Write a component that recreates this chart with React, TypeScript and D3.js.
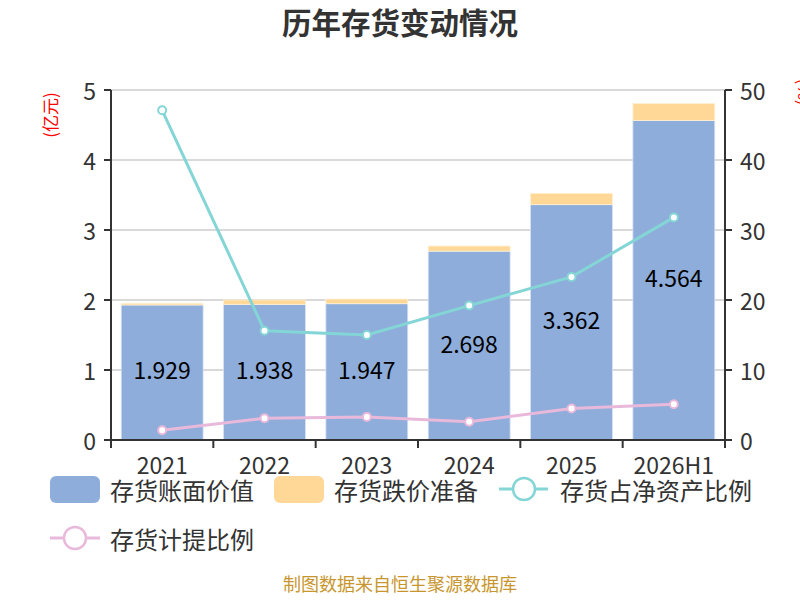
import React from "react";
import * as d3 from "d3";

const categories = ["2021", "2022", "2023", "2024", "2025", "2026H1"];
const bookValue = [1.929, 1.938, 1.947, 2.698, 3.362, 4.564];
const impairment = [0.024, 0.062, 0.067, 0.073, 0.162, 0.245];
const inventoryToNetAsset = [47.1, 15.6, 15.0, 19.2, 23.3, 31.8];
const provisionRatio = [1.4, 3.1, 3.3, 2.6, 4.5, 5.1];
const leftTicks = [0, 1, 2, 3, 4, 5];
const rightTicks = [0, 10, 20, 30, 40, 50];

const FONT = "'Noto Sans CJK SC', 'Microsoft YaHei', sans-serif";
const BLUE = "#8EADDA";
const ORANGE = "#FFD898";
const TEAL = "#84D5D6";
const PINK = "#E8B9DB";

export default function App() {
  const W = 800, H = 600;
  const left = 111, right = 725, top = 90, bottom = 440;
  const x = d3.scaleBand<string>().domain(categories).range([left, right]).paddingInner(0.2).paddingOuter(0.1);
  const xb = d3.scaleBand<string>().domain(categories).range([left, right]);
  const yL = d3.scaleLinear().domain([0, 5]).range([bottom, top]);
  const yR = d3.scaleLinear().domain([0, 50]).range([bottom, top]);
  const cx = (c: string) => (xb(c) as number) + xb.bandwidth() / 2;

  const line1 = d3.line<number>().x((_, i) => cx(categories[i])).y((d) => yR(d));
  const boundaries = categories.map((c) => xb(c) as number).concat([right]);

  return (
    <svg width={W} height={H} style={{ position: "absolute", left: 0, top: 0, fontFamily: FONT }}>
      <rect width={W} height={H} fill="#fff" />
      <text x={400} y={34} textAnchor="middle" fontSize={29.5} fontWeight="bold" fill="#333">历年存货变动情况</text>

      {leftTicks.map((t) => (
        <line key={"g" + t} x1={left} x2={right} y1={yL(t)} y2={yL(t)} stroke="#ccc" strokeWidth={1.5} />
      ))}

      {categories.map((c, i) => {
        const bx = x(c) as number;
        const bw = x.bandwidth();
        return (
          <g key={c}>
            <rect x={bx} y={yL(bookValue[i])} width={bw} height={yL(0) - yL(bookValue[i])} fill={BLUE} stroke="#d6e2f3" strokeWidth={0.8} />
            <rect x={bx} y={yL(bookValue[i] + impairment[i])} width={bw} height={yL(bookValue[i]) - yL(bookValue[i] + impairment[i])} fill={ORANGE} stroke="#fff1d6" strokeWidth={0.8} />
          </g>
        );
      })}

      {categories.map((c, i) => (
        <text key={"l" + c} x={cx(c)} y={(yL(bookValue[i]) + yL(0)) / 2 - 3} textAnchor="middle" dominantBaseline="central" fontSize={23} fill="#000">
          {bookValue[i].toFixed(3)}
        </text>
      ))}

      {/* axes */}
      <line x1={left} x2={left} y1={top} y2={bottom + 6} stroke="#333" strokeWidth={2} />
      <line x1={right} x2={right} y1={top} y2={bottom + 6} stroke="#333" strokeWidth={2} />
      <line x1={left} x2={right} y1={bottom} y2={bottom} stroke="#333" strokeWidth={2} />
      {leftTicks.map((t) => (
        <g key={"lt" + t}>
          <line x1={left - 7} x2={left} y1={yL(t)} y2={yL(t)} stroke="#333" strokeWidth={2} />
          <text x={96} y={yL(t)} textAnchor="end" dominantBaseline="central" fontSize={23} fill="#333">{t}</text>
        </g>
      ))}
      {rightTicks.map((t) => (
        <g key={"rt" + t}>
          <line x1={right} x2={right + 7} y1={yR(t)} y2={yR(t)} stroke="#333" strokeWidth={2} />
          <text x={740} y={yR(t)} textAnchor="start" dominantBaseline="central" fontSize={23} fill="#333">{t}</text>
        </g>
      ))}
      {boundaries.map((b, i) => (
        <line key={"xt" + i} x1={b} x2={b} y1={bottom} y2={bottom + 8} stroke="#333" strokeWidth={2} />
      ))}
      {categories.map((c) => (
        <text key={"xl" + c} x={cx(c)} y={464} textAnchor="middle" dominantBaseline="central" fontSize={23} fill="#333">{c}</text>
      ))}

      <text transform="translate(49,115) rotate(-90)" textAnchor="middle" dominantBaseline="central" fontSize={17} fill="red">(亿元)</text>
      <text transform="translate(805,92) rotate(90)" textAnchor="middle" dominantBaseline="central" fontSize={17} fill="red">(%)</text>

      {/* lines */}
      <path d={line1(inventoryToNetAsset) || ""} fill="none" stroke={TEAL} strokeWidth={3} />
      {inventoryToNetAsset.map((v, i) => (
        <circle key={"c1" + i} cx={cx(categories[i])} cy={yR(v)} r={4} fill="#fff" stroke={TEAL} strokeWidth={2} />
      ))}
      <path d={line1(provisionRatio) || ""} fill="none" stroke={PINK} strokeWidth={3} />
      {provisionRatio.map((v, i) => (
        <circle key={"c2" + i} cx={cx(categories[i])} cy={yR(v)} r={4} fill="#fff" stroke={PINK} strokeWidth={2} />
      ))}

      {/* legend */}
      <rect x={50} y={476} width={50} height={27} rx={6} fill={BLUE} />
      <text x={110} y={489} dominantBaseline="central" fontSize={24} fill="#333">存货账面价值</text>
      <rect x={274} y={476} width={50} height={27} rx={6} fill={ORANGE} />
      <text x={334} y={489} dominantBaseline="central" fontSize={24} fill="#333">存货跌价准备</text>
      <line x1={499} x2={548} y1={489} y2={489} stroke={TEAL} strokeWidth={3} />
      <circle cx={524} cy={489} r={11} fill="#fff" stroke={TEAL} strokeWidth={2.5} />
      <text x={560} y={489} dominantBaseline="central" fontSize={24} fill="#333">存货占净资产比例</text>
      <line x1={50} x2={100} y1={538} y2={538} stroke={PINK} strokeWidth={3} />
      <circle cx={75} cy={538} r={11} fill="#fff" stroke={PINK} strokeWidth={2.5} />
      <text x={110} y={538} dominantBaseline="central" fontSize={24} fill="#333">存货计提比例</text>

      <text x={400} y={591} textAnchor="middle" fontSize={18} fill="#C8962E">制图数据来自恒生聚源数据库</text>
    </svg>
  );
}
